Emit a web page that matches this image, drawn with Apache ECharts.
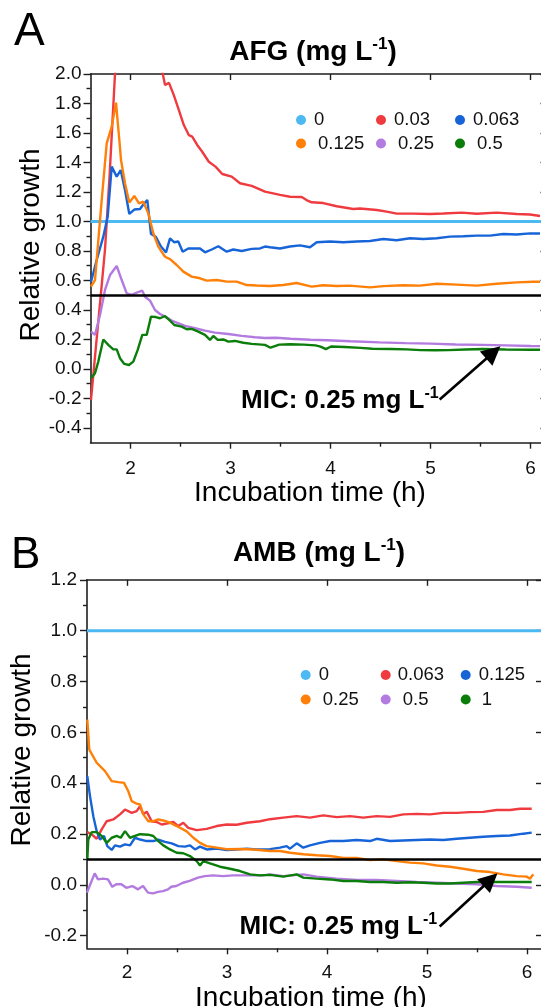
<!DOCTYPE html>
<html><head><meta charset="utf-8">
<script src="https://cdn.jsdelivr.net/npm/echarts@6/dist/echarts.min.js"></script>
<style>html,body{margin:0;padding:0;background:#fff}#c{width:541px;height:1007px}</style>
</head><body><div id="c"></div>
<script>
// ---------------- DATA ----------------
const X_TICKS = [2, 3, 4, 5, 6];
const X_MINOR = [2.5, 3.5, 4.5, 5.5];
const YA_TICKS = [-0.4, -0.2, 0, 0.2, 0.4, 0.6, 0.8, 1.0, 1.2, 1.4, 1.6, 1.8, 2.0];
const YA_MINOR = [-0.3, -0.1, 0.1, 0.3, 0.5, 0.7, 0.9, 1.1, 1.3, 1.5, 1.7, 1.9];
const YB_TICKS = [-0.2, 0, 0.2, 0.4, 0.6, 0.8, 1.0, 1.2];
const YB_MINOR = [-0.1, 0.1, 0.3, 0.5, 0.7, 0.9, 1.1];

// Panel A: AFG (mg/L) concentrations
const AFG_NAMES = ['0', '0.03', '0.063', '0.125', '0.25', '0.5'];
const afg_0 = [[1.6, 1.0], [6.17, 1.0]];
const afg_003 = [[1.605,-0.21],[1.65,0.12],[1.70,0.48],[1.745,0.81],[1.79,1.3],[1.845,2.0],[1.9,2.6],[2.0,3.0],[2.1,2.8],[2.2,2.45],[2.28,2.15],[2.323,2.0],[2.345,1.925],[2.385,1.94],[2.433,1.857],[2.483,1.756],[2.533,1.654],[2.583,1.586],[2.617,1.576],[2.667,1.519],[2.717,1.473],[2.783,1.405],[2.85,1.372],[2.918,1.322],[3.012,1.304],[3.095,1.259],[3.212,1.241],[3.345,1.202],[3.495,1.18],[3.595,1.168],[3.712,1.166],[3.76,1.145],[3.812,1.13],[3.928,1.125],[4.062,1.103],[4.228,1.085],[4.295,1.088],[4.462,1.078],[4.562,1.067],[4.662,1.053],[4.828,1.053],[4.995,1.051],[5.128,1.054],[5.312,1.06],[5.462,1.052],[5.662,1.06],[5.862,1.051],[5.995,1.047],[6.095,1.037]];
const afg_0063 = [[1.605,0.59],[1.662,0.739],[1.728,0.897],[1.772,1.033],[1.812,1.372],[1.862,1.304],[1.902,1.349],[1.945,1.214],[1.988,1.051],[2.038,1.081],[2.095,1.085],[2.138,1.123],[2.168,1.146],[2.205,0.915],[2.252,0.897],[2.305,0.83],[2.355,0.79],[2.395,0.885],[2.438,0.859],[2.478,0.864],[2.522,0.795],[2.578,0.817],[2.645,0.817],[2.695,0.817],[2.745,0.791],[2.812,0.81],[2.878,0.832],[2.962,0.795],[3.028,0.81],[3.112,0.80],[3.212,0.814],[3.295,0.817],[3.345,0.83],[3.395,0.825],[3.495,0.817],[3.595,0.83],[3.695,0.838],[3.795,0.825],[3.862,0.859],[3.995,0.864],[4.128,0.859],[4.262,0.864],[4.395,0.868],[4.528,0.881],[4.662,0.873],[4.795,0.886],[4.928,0.881],[5.062,0.886],[5.195,0.897],[5.328,0.9],[5.462,0.904],[5.595,0.904],[5.728,0.915],[5.862,0.912],[5.995,0.919],[6.095,0.919]];
const afg_0125 = [[1.605,0.558],[1.645,0.603],[1.662,0.74],[1.71,1.13],[1.762,1.53],[1.812,1.643],[1.855,1.806],[1.895,1.5],[1.905,1.417],[1.945,1.259],[1.988,1.128],[2.038,1.173],[2.085,1.123],[2.128,1.134],[2.178,1.055],[2.228,0.92],[2.278,0.829],[2.345,0.761],[2.395,0.745],[2.462,0.705],[2.528,0.66],[2.612,0.626],[2.695,0.615],[2.762,0.599],[2.862,0.603],[2.962,0.592],[3.062,0.592],[3.162,0.569],[3.262,0.566],[3.395,0.563],[3.528,0.569],[3.662,0.583],[3.812,0.558],[3.928,0.568],[4.062,0.563],[4.195,0.565],[4.395,0.553],[4.528,0.562],[4.728,0.568],[4.895,0.565],[5.062,0.578],[5.262,0.572],[5.462,0.565],[5.662,0.578],[5.862,0.587],[6.028,0.591],[6.095,0.591]];
const afg_025 = [[1.605,0.253],[1.645,0.231],[1.695,0.366],[1.745,0.536],[1.795,0.637],[1.862,0.698],[1.912,0.603],[1.962,0.513],[2.012,0.502],[2.062,0.517],[2.118,0.531],[2.145,0.49],[2.195,0.463],[2.245,0.40],[2.295,0.373],[2.345,0.355],[2.412,0.328],[2.462,0.314],[2.545,0.292],[2.645,0.276],[2.745,0.26],[2.845,0.246],[2.978,0.237],[3.112,0.224],[3.245,0.215],[3.345,0.21],[3.454,0.212],[3.6,0.205],[3.8,0.198],[3.971,0.195],[4.2,0.188],[4.488,0.18],[4.75,0.175],[5.005,0.172],[5.25,0.166],[5.523,0.163],[5.75,0.16],[6.005,0.156],[6.095,0.155]];
const afg_05 = [[1.605,-0.063],[1.645,-0.029],[1.678,0.05],[1.728,0.2],[1.778,0.163],[1.828,0.133],[1.862,0.133],[1.895,0.073],[1.938,0.034],[1.985,0.027],[2.028,0.05],[2.072,0.129],[2.118,0.231],[2.162,0.231],[2.205,0.355],[2.252,0.352],[2.295,0.344],[2.345,0.359],[2.395,0.328],[2.438,0.298],[2.512,0.287],[2.562,0.269],[2.612,0.272],[2.678,0.253],[2.745,0.231],[2.795,0.197],[2.828,0.224],[2.872,0.197],[2.928,0.2],[2.978,0.185],[3.045,0.19],[3.128,0.178],[3.212,0.17],[3.345,0.163],[3.40,0.144],[3.488,0.165],[3.6,0.168],[3.73,0.165],[3.85,0.16],[3.9,0.152],[3.954,0.135],[4.005,0.152],[4.143,0.149],[4.3,0.143],[4.419,0.137],[4.6,0.135],[4.764,0.133],[4.902,0.128],[5.05,0.127],[5.178,0.128],[5.35,0.132],[5.523,0.135],[5.75,0.132],[6.005,0.13],[6.095,0.13]];

// Panel B: AMB (mg/L) concentrations
const AMB_NAMES = ['0', '0.063', '0.125', '0.25', '0.5', '1'];
const amb_0 = [[1.6, 1.0], [6.16, 1.0]];
const amb_0063 = [[1.603,0.207],[1.647,0.198],[1.697,0.181],[1.747,0.218],[1.797,0.25],[1.863,0.257],[1.93,0.277],[1.98,0.296],[2.047,0.283],[2.097,0.29],[2.13,0.309],[2.163,0.277],[2.197,0.288],[2.247,0.25],[2.297,0.247],[2.347,0.237],[2.397,0.241],[2.463,0.247],[2.513,0.231],[2.563,0.244],[2.613,0.224],[2.697,0.215],[2.797,0.22],[2.897,0.231],[2.997,0.237],[3.097,0.236],[3.197,0.244],[3.33,0.25],[3.43,0.258],[3.563,0.264],[3.697,0.27],[3.83,0.264],[3.963,0.273],[4.097,0.266],[4.23,0.27],[4.363,0.264],[4.497,0.27],[4.63,0.267],[4.763,0.277],[4.897,0.279],[5.03,0.277],[5.163,0.283],[5.297,0.283],[5.43,0.286],[5.563,0.287],[5.697,0.294],[5.83,0.294],[5.93,0.299],[6.047,0.299]];
const amb_0125 = [[1.603,0.427],[1.63,0.349],[1.663,0.27],[1.697,0.211],[1.73,0.178],[1.77,0.192],[1.803,0.152],[1.847,0.137],[1.88,0.155],[1.93,0.15],[1.98,0.159],[2.03,0.155],[2.08,0.185],[2.13,0.178],[2.197,0.172],[2.263,0.172],[2.313,0.178],[2.38,0.169],[2.447,0.163],[2.513,0.152],[2.58,0.15],[2.63,0.155],[2.68,0.139],[2.73,0.15],[2.797,0.139],[2.897,0.142],[2.997,0.137],[3.097,0.139],[3.197,0.142],[3.297,0.139],[3.43,0.14],[3.53,0.146],[3.597,0.152],[3.63,0.142],[3.697,0.163],[3.763,0.146],[3.83,0.155],[3.93,0.165],[4.03,0.172],[4.163,0.172],[4.297,0.176],[4.43,0.172],[4.497,0.181],[4.63,0.172],[4.763,0.174],[4.897,0.176],[5.03,0.178],[5.163,0.176],[5.297,0.181],[5.43,0.185],[5.563,0.189],[5.697,0.192],[5.83,0.194],[5.963,0.201],[6.047,0.205]];
const amb_025 = [[1.603,0.65],[1.623,0.532],[1.697,0.48],[1.78,0.447],[1.847,0.408],[1.913,0.404],[1.97,0.401],[2.013,0.368],[2.047,0.329],[2.097,0.319],[2.13,0.316],[2.163,0.277],[2.213,0.25],[2.263,0.25],[2.313,0.257],[2.363,0.253],[2.43,0.244],[2.497,0.231],[2.597,0.21],[2.663,0.185],[2.73,0.165],[2.797,0.152],[2.897,0.146],[2.997,0.14],[3.13,0.141],[3.263,0.139],[3.43,0.133],[3.53,0.133],[3.63,0.126],[3.763,0.12],[3.897,0.116],[4.03,0.113],[4.163,0.106],[4.297,0.106],[4.43,0.097],[4.563,0.1],[4.697,0.093],[4.83,0.087],[4.963,0.084],[5.097,0.076],[5.23,0.071],[5.363,0.063],[5.497,0.054],[5.63,0.05],[5.763,0.041],[5.897,0.034],[5.997,0.032],[6.03,0.024],[6.063,0.041]];
const amb_05 = [[1.6,-0.031],[1.633,0.002],[1.677,0.045],[1.71,0.021],[1.76,0.024],[1.81,0.021],[1.853,-0.008],[1.893,0.002],[1.943,0.002],[1.993,-0.012],[2.053,-0.005],[2.11,-0.018],[2.16,-0.005],[2.21,-0.031],[2.26,-0.034],[2.31,-0.028],[2.36,-0.025],[2.41,-0.018],[2.443,-0.008],[2.493,-0.005],[2.56,0.008],[2.627,0.015],[2.71,0.028],[2.777,0.034],[2.86,0.037],[2.96,0.034],[3.06,0.037],[3.16,0.037],[3.26,0.037],[3.36,0.037],[3.43,0.041],[3.563,0.034],[3.763,0.041],[3.897,0.032],[4.097,0.024],[4.297,0.019],[4.497,0.019],[4.697,0.015],[4.897,0.011],[5.097,0.008],[5.297,0.005],[5.497,0.002],[5.697,-0.005],[5.897,-0.008],[6.047,-0.012]];
const amb_1 = [[1.603,0.1],[1.613,0.178],[1.647,0.207],[1.697,0.207],[1.747,0.192],[1.797,0.165],[1.847,0.185],[1.897,0.192],[1.937,0.185],[1.98,0.211],[2.03,0.185],[2.08,0.192],[2.13,0.199],[2.213,0.197],[2.263,0.192],[2.313,0.172],[2.363,0.155],[2.43,0.139],[2.497,0.126],[2.563,0.124],[2.63,0.113],[2.697,0.093],[2.73,0.076],[2.763,0.093],[2.83,0.084],[2.93,0.071],[3.03,0.063],[3.13,0.054],[3.23,0.041],[3.33,0.037],[3.43,0.039],[3.563,0.032],[3.697,0.041],[3.763,0.028],[3.897,0.024],[4.03,0.021],[4.163,0.015],[4.297,0.015],[4.43,0.011],[4.563,0.011],[4.697,0.008],[4.83,0.01],[4.963,0.008],[5.097,0.005],[5.23,0.005],[5.363,0.008],[5.497,0.011],[5.63,0.011],[5.763,0.011],[5.897,0.011],[6.047,0.011]];

// thresholds and MIC arrows (data coordinates)
const AFG_THRESHOLD = 0.5;
const AMB_THRESHOLD = 0.1;
const AFG_ARROW = [[5.092, -0.207], [5.628, 0.112]];
const AMB_ARROW = [[5.127, -0.164], [5.635, 0.02]];

// ---------------- STYLE ----------------
const FONT = '"Liberation Sans", Arial, Helvetica, sans-serif';
const AX = '#1e1e1e';
const COLORS = ['#4db9f3', '#ef3b3f', '#1664d8', '#ff8008', '#b37be0', '#0b7d0b'];

const chart = echarts.init(document.getElementById('c'), null, {renderer: 'canvas'});

const PANEL = [
  {grid: {left: 90.5, top: 74, width: 457, height: 368.7, outerBoundsMode: 'none', containLabel: false}, xmax: 6.17, ymin: -0.5, ymax: 2.0},
  {grid: {left: 87, top: 579.8, width: 456, height: 368.5, outerBoundsMode: 'none', containLabel: false}, xmax: 6.16, ymin: -0.25, ymax: 1.2}
];

function xAxes(g) {
  const base = {gridIndex: g, type: 'value', min: 1.6, max: PANEL[g].xmax, splitLine: {show: false}};
  return [
    Object.assign({}, base, {position: 'bottom',
      axisLine: {show: true, onZero: false, lineStyle: {color: AX, width: 1.6}},
      axisTick: {show: true, inside: false, length: 6, customValues: X_TICKS, lineStyle: {color: AX, width: 1.4}},
      axisLabel: {show: true, customValues: X_TICKS, margin: g === 0 ? 17 : 15, fontSize: 19, color: '#111', fontFamily: FONT,
        formatter: v => String(Math.round(v))}}),
    Object.assign({}, base, {position: 'bottom',
      axisLine: {show: false, onZero: false},
      axisTick: {show: true, inside: false, length: 4, customValues: X_MINOR, lineStyle: {color: AX, width: 1.4}},
      axisLabel: {show: false}}),
    Object.assign({}, base, {position: 'top',
      axisLine: {show: true, onZero: false, lineStyle: {color: AX, width: 1.6}},
      axisTick: {show: true, inside: true, length: 6, customValues: X_TICKS, lineStyle: {color: AX, width: 1.4}},
      axisLabel: {show: false}})
  ];
}
function yAxes(g) {
  const maj = g === 0 ? YA_TICKS : YB_TICKS, mnr = g === 0 ? YA_MINOR : YB_MINOR;
  const base = {gridIndex: g, type: 'value', min: PANEL[g].ymin, max: PANEL[g].ymax, splitLine: {show: false}};
  return [
    Object.assign({}, base, {position: 'left',
      axisLine: {show: true, onZero: false, lineStyle: {color: AX, width: 1.6}},
      axisTick: {show: true, inside: false, length: 7, customValues: maj, lineStyle: {color: AX, width: 1.4}},
      axisLabel: {show: true, customValues: maj, margin: g === 0 ? 9 : 10, fontSize: 19, color: '#111', fontFamily: FONT,
        formatter: v => (Math.abs(v) < 1e-9 ? 0 : v).toFixed(1)}}),
    Object.assign({}, base, {position: 'left',
      axisLine: {show: false, onZero: false},
      axisTick: {show: true, inside: false, length: 4, customValues: mnr, lineStyle: {color: AX, width: 1.4}},
      axisLabel: {show: false}}),
    Object.assign({}, base, {position: 'right',
      axisLine: {show: true, onZero: false, lineStyle: {color: AX, width: 1.6}},
      axisTick: {show: true, inside: true, length: 7, customValues: maj, lineStyle: {color: AX, width: 1.4}},
      axisLabel: {show: false}})
  ];
}

const panelData = [
  {prefix: 'A|', names: AFG_NAMES, data: [afg_0, afg_003, afg_0063, afg_0125, afg_025, afg_05], thr: AFG_THRESHOLD, arrow: AFG_ARROW},
  {prefix: 'B|', names: AMB_NAMES, data: [amb_0, amb_0063, amb_0125, amb_025, amb_05, amb_1], thr: AMB_THRESHOLD, arrow: AMB_ARROW}
];

const series = [];
panelData.forEach((p, g) => {
  p.data.forEach((d, i) => {
    const s = {
      type: 'line', name: p.prefix + p.names[i], xAxisIndex: g * 3, yAxisIndex: g * 3,
      data: d, showSymbol: false, symbol: 'none', clip: true,
      lineStyle: {color: COLORS[i], width: i === 0 ? 3 : 2.4},
      itemStyle: {color: COLORS[i]}, z: 2, emphasis: {disabled: true}
    };
    if (i === 0) {
      s.markLine = {
        silent: true, symbol: ['none', 'none'], animation: false, z: 5,
        label: {show: false},
        data: [
          {yAxis: p.thr, lineStyle: {color: '#000', width: 2.6, type: 'solid'}},
          [
            {coord: p.arrow[0], symbol: 'none', lineStyle: {color: '#000', width: 2.6, type: 'solid'}},
            {coord: p.arrow[1], symbol: 'triangle', symbolSize: 19}
          ]
        ]
      };
    }
    series.push(s);
  });
});

// legends: one component per item so the 3-column layout matches
const LEG_LAYOUT = [
  // [panel, index, left, top, textPadLeft]
  [0, 0, 296, 110.5, 1], [0, 1, 376, 110.5, 1], [0, 2, 455, 110.5, 1],
  [0, 3, 296, 134, 5], [0, 4, 376, 134, 5], [0, 5, 455, 134, 5],
  [1, 0, 300.7, 665.5, 1], [1, 1, 380.7, 665.5, 0], [1, 2, 460.7, 665.5, 1],
  [1, 3, 300.7, 690, 5], [1, 4, 380.7, 690, 5], [1, 5, 460.7, 690, 4]
];
const legends = LEG_LAYOUT.map(([g, i, l, t, pad]) => ({
  data: [panelData[g].prefix + panelData[g].names[i]],
  left: l, top: t, padding: 0, itemGap: 0, icon: 'circle', itemWidth: 14, itemHeight: 10,
  selectedMode: false,
  formatter: n => n.split('|')[1],
  textStyle: {fontSize: 18.5, color: '#111', fontFamily: FONT, padding: [0, 0, 0, pad]}
}));

function richTitle(main) {
  return {
    text: '{t|' + main + ' (mg L}{s|-1}{t|)}',
    rich: {
      t: {fontSize: 28, fontWeight: 'bold', fontFamily: FONT, fill: '#000', lineHeight: 32},
      s: {fontSize: 17, fontWeight: 'bold', fontFamily: FONT, fill: '#000', verticalAlign: 'top', lineHeight: 22}
    },
    align: 'center', verticalAlign: 'middle'
  };
}
function richMIC() {
  return {
    text: '{t|MIC: 0.25 mg L}{s|-1}',
    rich: {
      t: {fontSize: 26, fontWeight: 'bold', fontFamily: FONT, fill: '#000', lineHeight: 30},
      s: {fontSize: 16, fontWeight: 'bold', fontFamily: FONT, fill: '#000', verticalAlign: 'top', lineHeight: 20}
    },
    align: 'left', verticalAlign: 'middle'
  };
}
const plain = (text, size, align) => ({text, fontSize: size, fontFamily: FONT, fill: '#000', align: align || 'center', verticalAlign: 'middle'});

const graphic = [
  {type: 'text', x: 14, y: 32, style: plain('A', 46, 'left')},
  {type: 'text', x: 11, y: 556, style: plain('B', 44, 'left')},
  {type: 'text', x: 313, y: 52, style: richTitle('AFG')},
  {type: 'text', x: 319, y: 553, style: richTitle('AMB')},
  {type: 'text', x: 31, y: 245, rotation: Math.PI / 2, style: plain('Relative growth', 28)},
  {type: 'text', x: 22.5, y: 750, rotation: Math.PI / 2, style: plain('Relative growth', 28)},
  {type: 'text', x: 310, y: 493, style: plain('Incubation time (h)', 28)},
  {type: 'text', x: 311, y: 998, style: plain('Incubation time (h)', 28)},
  {type: 'text', x: 241, y: 401, style: richMIC()},
  {type: 'text', x: 239.5, y: 927, style: richMIC()}
];

chart.setOption({
  animation: false,
  backgroundColor: '#fff',
  grid: PANEL.map(p => p.grid),
  xAxis: xAxes(0).concat(xAxes(1)),
  yAxis: yAxes(0).concat(yAxes(1)),
  legend: legends,
  series: series,
  graphic: graphic
});
</script>
</body></html>
